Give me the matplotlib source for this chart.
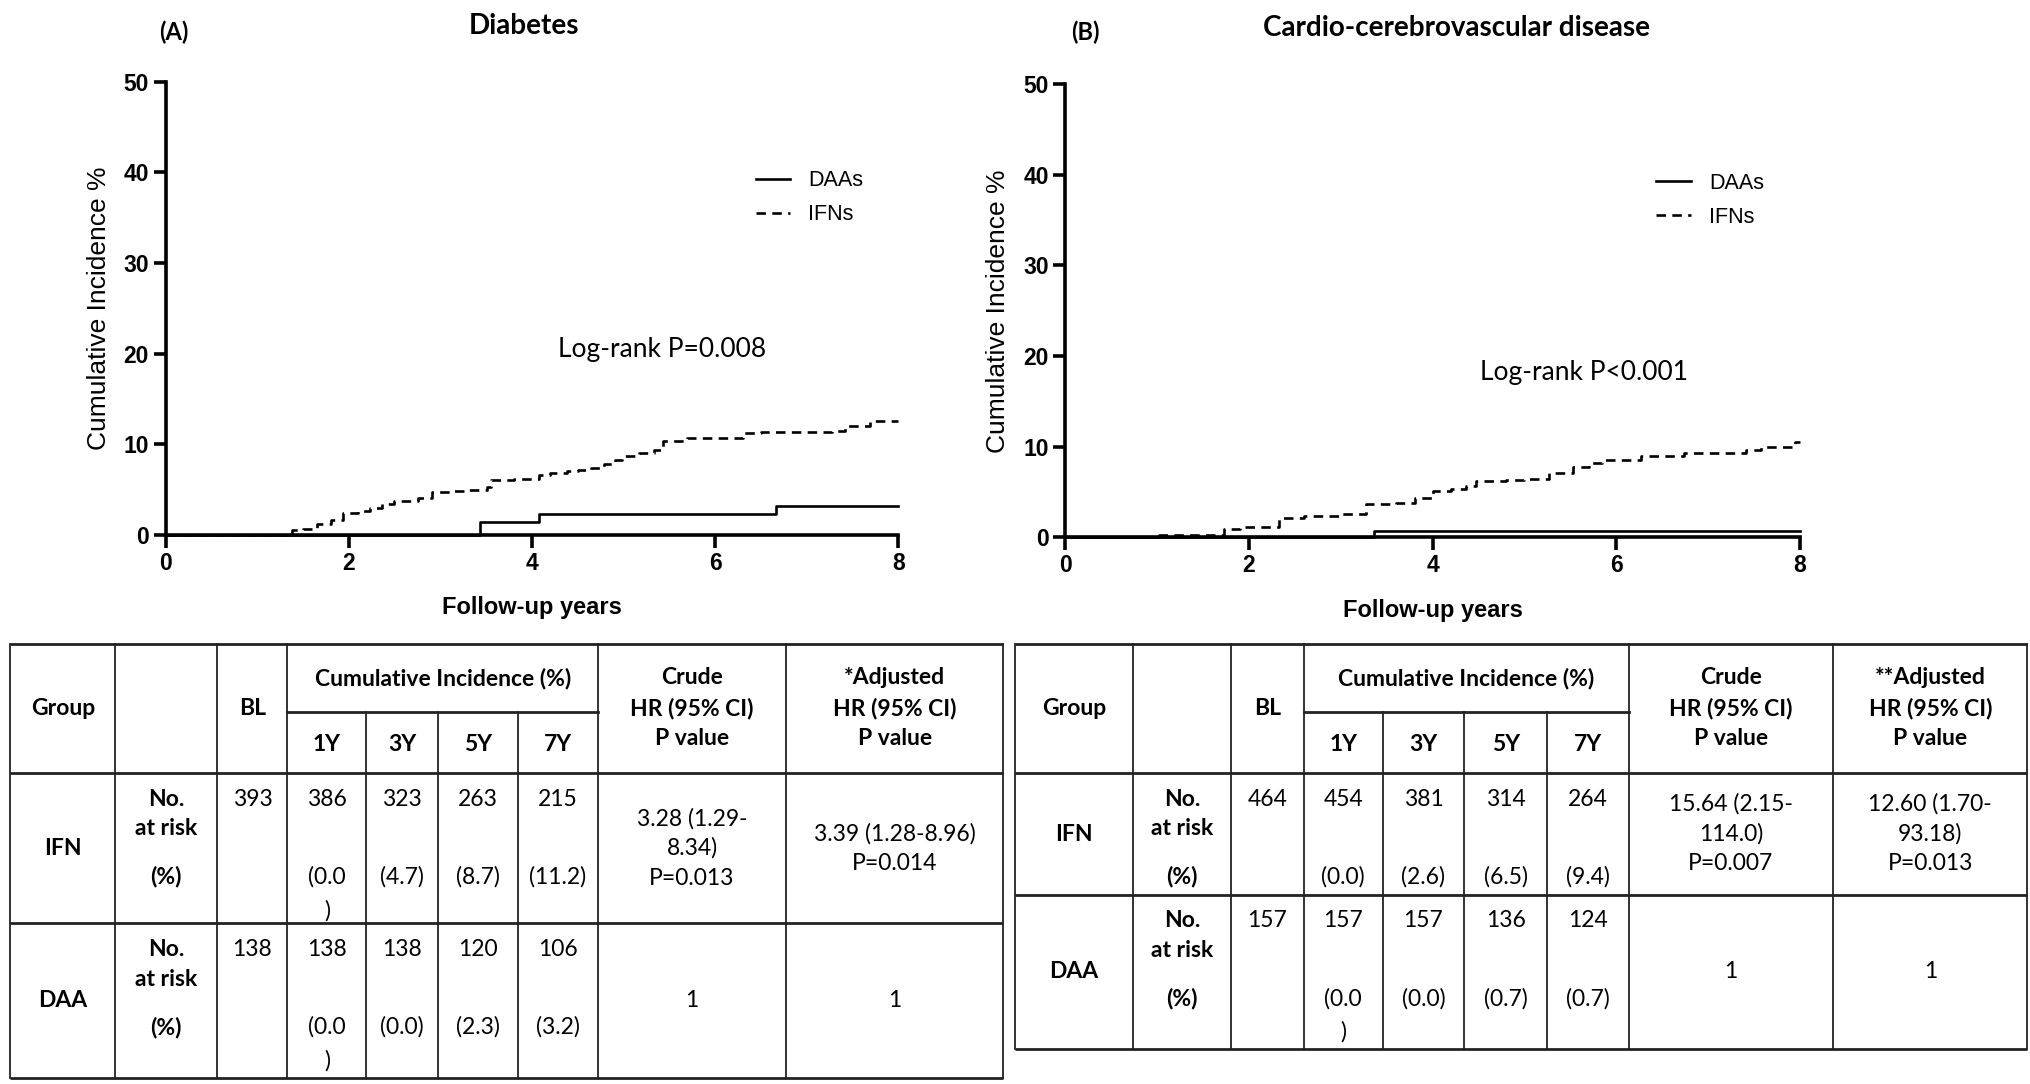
import matplotlib
matplotlib.use("Agg")
import matplotlib.pyplot as plt
from matplotlib.lines import Line2D

# ---- curve data ----
dm_daa_t = [0, 3.43, 4.07, 6.66, 8.0]
dm_daa_y = [0, 1.45, 2.3, 3.2, 3.2]
dm_ifn_t = [0, 1.38, 1.5, 1.65, 1.8, 1.94, 2.1, 2.23, 2.36, 2.49, 2.75, 2.91, 3.1,
            3.3, 3.51, 3.55, 3.8, 4.07, 4.2, 4.38, 4.5, 4.64, 4.78, 4.9, 4.98, 5.17,
            5.33, 5.43, 5.69, 6.3, 6.5, 7.27, 7.42, 7.69, 8.0]
dm_ifn_y = [0, 0.55, 0.7, 1.2, 1.6, 2.4, 2.6, 3.0, 3.4, 3.7, 4.1, 4.7, 4.8,
            5.0, 5.3, 6.0, 6.2, 6.6, 6.8, 7.0, 7.2, 7.4, 7.8, 8.3, 8.7, 9.0,
            9.4, 10.4, 10.7, 11.2, 11.4, 11.5, 12.0, 12.6, 12.6]

cv_daa_t = [0, 3.36, 8.0]
cv_daa_y = [0, 0.7, 0.7]
cv_ifn_t = [0, 1.02, 1.73, 1.9, 2.33, 2.6, 3.0, 3.27, 3.6, 3.81, 4.01, 4.2, 4.36,
            4.47, 4.8, 5.0, 5.27, 5.53, 5.7, 5.85, 6.27, 6.74, 7.42, 7.58, 7.95, 8.0]
cv_ifn_y = [0, 0.3, 0.9, 1.1, 2.2, 2.4, 2.6, 3.7, 3.8, 4.4, 5.1, 5.4, 5.7,
            6.2, 6.3, 6.5, 7.1, 7.8, 8.2, 8.6, 9.0, 9.3, 9.7, 10.0, 10.5, 10.5]

x_ticks = [0, 2, 4, 6, 8]
y_ticks = [0, 10, 20, 30, 40, 50]

# ---- table data ----
groups = ["IFN", "DAA"]
years = ["1Y", "3Y", "5Y", "7Y"]
A_bl = [393, 138]
A_risk = [[386, 323, 263, 215], [138, 138, 120, 106]]
A_pct = [[0.0, 4.7, 8.7, 11.2], [0.0, 0.0, 2.3, 3.2]]
A_wrap = [(0, 0), (1, 0)]
A_crude = ["3.28 (1.29-\n8.34)\nP=0.013", "1"]
A_adj = ["3.39 (1.28-8.96)\nP=0.014", "1"]
A_adj_head = "*Adjusted\nHR (95% CI)\nP value"

B_bl = [464, 157]
B_risk = [[454, 381, 314, 264], [157, 157, 136, 124]]
B_pct = [[0.0, 2.6, 6.5, 9.4], [0.0, 0.0, 0.7, 0.7]]
B_wrap = [(1, 0)]
B_crude = ["15.64 (2.15-\n114.0)\nP=0.007", "1"]
B_adj = ["12.60 (1.70-\n93.18)\nP=0.013", "1"]
B_adj_head = "**Adjusted\nHR (95% CI)\nP value"

W, H = 1568.0, 837.0   # layout grid units
ARIAL = "Liberation Sans"
CAL = "Lato"

fig = plt.figure(figsize=(20.3, 10.84), dpi=100)


def box(l, r, b, t):
    return [l / W, 1 - b / H, (r - l) / W, (b - t) / H]


def km_panel(rect, daa_t, daa_y, ifn_t, ifn_y, ptxt, pxy):
    ax = fig.add_axes(rect)
    ax.step(daa_t, daa_y, where="post", color="black", lw=1.9, clip_on=False, label="DAAs")
    ax.step(ifn_t, ifn_y, where="post", color="black", lw=1.9, clip_on=False,
            dashes=(3.6, 2.4), label="IFNs")
    ax.set_xlim(0, 8)
    ax.set_ylim(0, 50)
    ax.set_xticks(x_ticks)
    ax.set_yticks(y_ticks)
    for s in ["top", "right"]:
        ax.spines[s].set_visible(False)
    for s in ["left", "bottom"]:
        ax.spines[s].set_linewidth(2.6)
    ax.tick_params(width=2.6, length=9, direction="out", pad=3)
    for lab in ax.get_xticklabels() + ax.get_yticklabels():
        lab.set_fontfamily(ARIAL)
        lab.set_fontweight("bold")
        lab.set_fontsize(16.5)
    ax.set_ylabel("Cumulative Incidence %", fontfamily=ARIAL, fontsize=19)
    ax.yaxis.set_label_coords(-0.075, 0.5)
    ax.set_xlabel("Follow-up years", fontfamily=ARIAL, fontsize=17, fontweight="bold")
    ax.xaxis.set_label_coords(0.5, -0.135)
    handles = [Line2D([], [], color="black", lw=1.9),
               Line2D([], [], color="black", lw=1.9, dashes=(3.6, 2.4))]
    ax.legend(handles, ["DAAs", "IFNs"], loc="center left", bbox_to_anchor=(0.805, 0.744),
              frameon=False, handlelength=1.6, handletextpad=0.85, labelspacing=0.6,
              borderpad=0, borderaxespad=0, prop={"family": ARIAL, "size": 15.5})
    ax.text(pxy[0], pxy[1], ptxt, transform=ax.transAxes, ha="left", va="center",
            fontfamily=CAL, fontsize=19)
    return ax


km_panel(box(128, 694, 413, 63), dm_daa_t, dm_daa_y, dm_ifn_t, dm_ifn_y,
         "Log-rank P=0.008", ((431 - 128) / 566, (413 - 270) / 350))
km_panel(box(823, 1390, 415, 65), cv_daa_t, cv_daa_y, cv_ifn_t, cv_ifn_y,
         "Log-rank P<0.001", ((1143 - 823) / 567, (415 - 288) / 350))

# overlay for titles and tables
tab = fig.add_axes([0, 0, 1, 1])
tab.set_xlim(0, W)
tab.set_ylim(H, 0)
tab.axis("off")

tab.text(134, 31, "(A)", ha="center", va="baseline", fontfamily=CAL, fontweight="bold", fontsize=17)
tab.text(405, 26, "Diabetes", ha="center", va="baseline", fontfamily=CAL, fontweight="bold", fontsize=20)
tab.text(838, 31, "(B)", ha="center", va="baseline", fontfamily=CAL, fontweight="bold", fontsize=17)
tab.text(1125, 28, "Cardio-cerebrovascular disease", ha="center", va="baseline",
         fontfamily=CAL, fontweight="bold", fontsize=20)

FS = 16.5
STEP = 23


def put(x, yc, s, bold=False, step=STEP):
    lines = s.split("\n")
    y0 = yc - (len(lines) - 1) * step / 2
    for i, ln in enumerate(lines):
        tab.text(x, y0 + i * step, ln, ha="center", va="center", fontfamily=CAL,
                 fontsize=FS, fontweight="bold" if bold else "normal")


def draw_table(cols, rows, bl, risk, pct, wrap, crude, adj, adj_head):
    c = cols
    r = rows
    # horizontal rules
    for y in [r[0], r[2], r[3], r[4]]:
        tab.plot([c[0], c[-1]], [y, y], color="#222222", lw=2.0, solid_capstyle="butt")
    tab.plot([c[3], c[7]], [r[1], r[1]], color="#222222", lw=2.0)
    # vertical rules
    for i in [0, 1, 2, 3, 7, 8, 9]:
        tab.plot([c[i], c[i]], [r[0], r[4]], color="#222222", lw=1.3)
    for i in [4, 5, 6]:
        tab.plot([c[i], c[i]], [r[1], r[4]], color="#222222", lw=1.3)
    mid = [(c[i] + c[i + 1]) / 2 for i in range(len(c) - 1)]
    hc = (r[0] + r[2]) / 2
    put(mid[0], hc, "Group", bold=True)
    put(mid[2], hc, "BL", bold=True)
    put((c[3] + c[7]) / 2, r[0] + 27, "Cumulative Incidence (%)", bold=True)
    for j, yl in enumerate(years):
        put(mid[3 + j], r[1] + 25, yl, bold=True)
    put(mid[7], hc, "Crude\nHR (95% CI)\nP value", bold=True, step=23.5)
    put(mid[8], hc, adj_head, bold=True, step=23.5)
    for g in range(2):
        top, bot = r[2 + g], r[3 + g]
        rc = (top + bot) / 2
        put(mid[0], rc, groups[g], bold=True)
        put(mid[1], top + 31.5, "No.\nat risk", bold=True)
        put(mid[1], top + 80, "(%)", bold=True)
        put(mid[2], top + 20, str(bl[g]))
        for j in range(4):
            put(mid[3 + j], top + 20, str(risk[g][j]))
            txt = "({:.1f})".format(pct[g][j])
            if (g, j) in wrap:
                put(mid[3 + j], top + 80, txt[:-1])
                put(mid[3 + j], top + 106, ")")
            else:
                put(mid[3 + j], top + 80, txt)
        put(mid[7], rc, crude[g])
        put(mid[8], rc, adj[g])


draw_table([8, 89, 168, 222, 283, 338, 400, 462, 607, 775],
           [497, 550, 597, 713, 832],
           A_bl, A_risk, A_pct, A_wrap, A_crude, A_adj, A_adj_head)
draw_table([784, 875, 951, 1007, 1068, 1131, 1195, 1258, 1416, 1566],
           [497, 550, 597, 691, 810],
           B_bl, B_risk, B_pct, B_wrap, B_crude, B_adj, B_adj_head)

fig.savefig("out.png", dpi=100)
